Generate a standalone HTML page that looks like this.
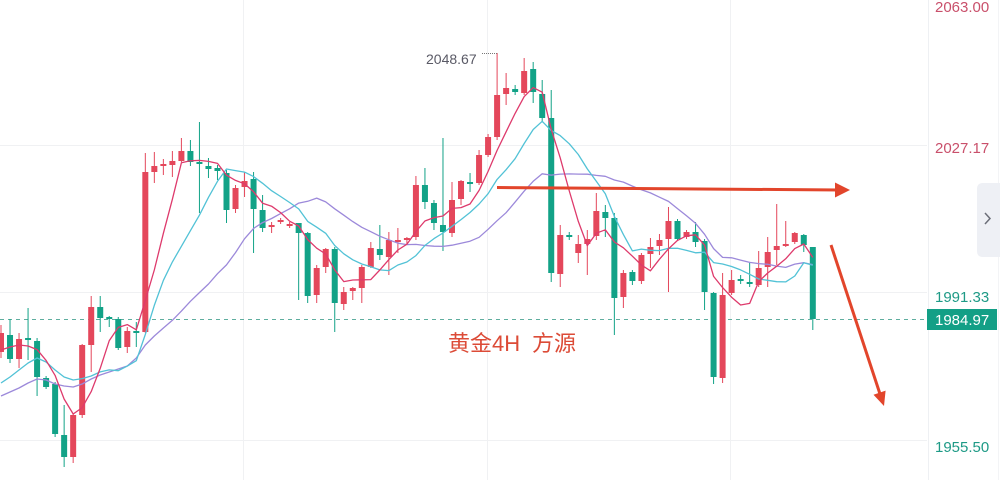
<!DOCTYPE html>
<html><head><meta charset="utf-8">
<style>
html,body{margin:0;padding:0;background:#fff;}
body{width:1000px;height:480px;overflow:hidden;}
svg{display:block;}
.ax{font-family:"Liberation Sans",sans-serif;font-size:15px;}
</style></head>
<body>
<svg id="s" width="1000" height="480" viewBox="0 0 1000 480" xmlns="http://www.w3.org/2000/svg">
  <rect x="0" y="0" width="1000" height="480" fill="#ffffff"/>
  <!-- grid -->
  <g stroke="#f0f1f3" stroke-width="1">
    <line x1="0" y1="145.5" x2="927" y2="145.5"/>
    <line x1="0" y1="292.5" x2="927" y2="292.5"/>
    <line x1="0" y1="440.5" x2="927" y2="440.5"/>
    <line x1="243.5" y1="0" x2="243.5" y2="480"/>
    <line x1="487.5" y1="0" x2="487.5" y2="480"/>
    <line x1="730.5" y1="0" x2="730.5" y2="480"/>
  </g>
  <!-- axis divider -->
  <line x1="928.5" y1="0" x2="928.5" y2="480" stroke="#eef0f3" stroke-width="1"/>
  <line x1="998.5" y1="0" x2="998.5" y2="480" stroke="#f3f4f6" stroke-width="1"/>
  <!-- last price dashed line -->
  <line x1="0" y1="319.5" x2="927" y2="319.5" stroke="#5fae9f" stroke-width="1" stroke-dasharray="4,4"/>
  <g id="candles"></g>
  <g id="mas" fill="none" stroke-width="1.3" stroke-linejoin="round"></g>
  <!-- high label -->
  <text x="426" y="64" font-family="Liberation Sans, sans-serif" font-size="14" fill="#5a5a66">2048.67</text>
  <line x1="482" y1="53.5" x2="497" y2="53.5" stroke="#777" stroke-width="1" stroke-dasharray="1,1"/>
  <!-- annotations -->
  <line x1="497" y1="187.5" x2="840" y2="190" stroke="#e2452b" stroke-width="3"/>
  <polygon points="835,182.5 850,190 835,197.5" fill="#e2452b"/>
  <line x1="831" y1="245" x2="880" y2="394" stroke="#e2452b" stroke-width="3"/>
  <polygon points="873.5,394.8 884,406 885.6,390.6" fill="#e2452b"/>
  <text x="448" y="351" font-family="Liberation Sans, Noto Sans CJK SC, sans-serif" font-size="22" fill="#dc4b37">黄金4H</text>
  <text x="532" y="351" font-family="Liberation Sans, Noto Sans CJK SC, sans-serif" font-size="22" fill="#dc4b37">方源</text>
  <!-- axis labels -->
  <text class="ax" x="935" y="12" fill="#c9506b">2063.00</text>
  <text class="ax" x="935" y="153" fill="#c9506b">2027.17</text>
  <text class="ax" x="935" y="302" fill="#1e9a86">1991.33</text>
  <text class="ax" x="935" y="452" fill="#1e9a86">1955.50</text>
  <rect x="927" y="309" width="70" height="21" fill="#139f86"/>
  <text class="ax" x="935" y="325" fill="#ffffff">1984.97</text>
  <!-- side tab -->
  <path d="M1000,183 L983,183 Q977,183 977,189 L977,251 Q977,257 983,257 L1000,257 Z" fill="#eef0f5"/>
  <polyline points="985,213 990,218.5 985,224" fill="none" stroke="#6b6e78" stroke-width="1.5"/>
</svg>
<script>
var D=[
['r',333,352,325,358],['g',335,359,319,363],['r',339,359,333,368],['g',338,340,308,360],
['g',341,377,338,396],['g',378,387,376,389],['g',384,434,382,437],['g',435,457,405,467],
['r',415,457,413,463],['r',345,415,344,418],['r',307,345,296,372],['g',307,318,296,332],
['g',317,319,316,327],['g',319,348,317,350],['r',331,347,327,353],['g',331,333,322,347],
['r',172,332,153,333],['r',166,172,152,183],['r',164,166,159,175],['r',161,165,151,177],
['r',151,161,138,162],['g',151,162,140,166],['g',162,164,122,213],['g',166,169,158,178],
['g',168,171,165,180],['g',173,210,170,223],['r',188,209,185,213],['r',181,187,172,197],
['g',179,209,172,253],['g',210,228,195,232],['r',225,227,222,233],['r',220,222,218,224],
['r',224,226,222,228],['g',223,233,223,300],['g',233,296,232,303],['r',268,295,265,303],
['r',249,267,248,273],['g',249,303,247,332],['r',292,304,287,310],['r',288,291,287,300],
['r',267,288,265,303],['r',248,267,242,268],['g',249,255,225,260],['r',240,257,232,275],
['r',240,242,228,253],['r',238,240,237,245],['r',185,237,176,240],['g',185,202,168,209],
['g',203,223,200,230],['g',225,232,138,251],['r',200,233,182,237],['r',181,199,180,205],
['g',182,184,173,192],['r',155,183,150,185],['r',137,155,134,157],['r',95,137,53,140],
['r',88,94,73,105],['g',89,92,85,95],['r',71,93,58,95],['g',69,92,62,103],
['g',94,118,80,122],['g',118,273,90,282],['r',235,274,225,287],['g',235,237,232,240],
['r',244,253,235,263],['r',239,244,230,275],['r',211,236,193,240],['g',212,218,205,237],
['g',218,298,213,335],['r',273,297,270,308],['g',272,281,270,285],['r',255,281,253,284],
['r',247,254,238,268],['r',240,246,234,255],['r',221,239,207,292],['g',221,239,219,241],
['r',232,237,230,239],['g',232,242,222,247],['g',241,292,239,310],['g',293,377,292,384],
['r',295,378,273,383],['r',280,293,270,295],['g',279,281,275,284],['g',282,284,263,287],
['r',268,285,251,287],['r',252,267,237,287],['r',246,250,204,265],['r',244,246,221,247],
['r',233,242,232,244],['g',235,245,234,252],['g',247,319,247,330]
];
var NS="http://www.w3.org/2000/svg";
var RED="#e4475b",GRN="#12a287";
function X(i){return 1+i*9.02;}
var cg=document.getElementById('candles');
var closes=[];
for(var i=0;i<D.length;i++){
  var d=D[i],x=X(i),col=d[0]=='r'?RED:GRN;
  closes.push(d[0]=='r'?d[1]:d[2]);
  var w=document.createElementNS(NS,'rect');
  w.setAttribute('x',(x-0.5).toFixed(2));w.setAttribute('y',d[3]);
  w.setAttribute('width',1);w.setAttribute('height',Math.max(1,d[4]-d[3]));
  w.setAttribute('fill',col);cg.appendChild(w);
  var b=document.createElementNS(NS,'rect');
  var h=Math.max(1.5,d[2]-d[1]);
  b.setAttribute('x',(x-3).toFixed(2));b.setAttribute('y',d[1]);
  b.setAttribute('width',6);b.setAttribute('height',h);
  b.setAttribute('fill',col);cg.appendChild(b);
}
function ma(n,ov){
  var r=[];
  for(var i=0;i<closes.length;i++){
    if(i<ov.length){r.push(ov[i]);continue;}
    var s=0;for(var k=i-n+1;k<=i;k++)s+=closes[k];
    r.push(s/n);
  }
  return r;
}
var m5=ma(5,[350,347,345,346]);
var m10=ma(10,[383,377,370,363,358,362,370,377,380]);
var m20=ma(20,[396,392,388,383,379,380,384,386,387,384,379,375,372,369,366,358,345,336,328]);
var mg=document.getElementById('mas');
function line(arr,col){
  var p=[];for(var i=0;i<arr.length;i++)p.push(X(i).toFixed(1)+','+arr[i].toFixed(1));
  var pl=document.createElementNS(NS,'polyline');
  pl.setAttribute('points',p.join(' '));pl.setAttribute('stroke',col);
  mg.appendChild(pl);
}
line(m20,"#9c89da");
line(m10,"#52c2d6");
line(m5,"#de3a6c");
</script>
</body></html>
